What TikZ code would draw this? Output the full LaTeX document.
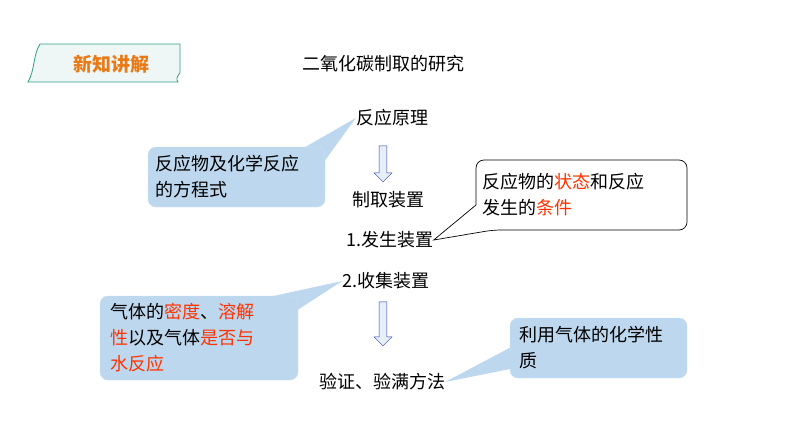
\documentclass[tikz,border=0pt]{standalone}
\usepackage{fontspec}
\setmainfont{Noto Sans CJK SC}
\usetikzlibrary{shapes.arrows}
\definecolor{cb}{HTML}{BDD7EE}
\definecolor{rd}{HTML}{FF3300}
\definecolor{gr}{HTML}{2E9E7E}
\definecolor{or}{HTML}{E97A16}
\begin{document}
\begin{tikzpicture}[x=1pt,y=-1pt,
  txt/.style={font=\fontsize{18}{26}\selectfont, inner sep=0pt},
  call/.style={rounded corners=8pt, fill=cb, draw=cb!80!white},
  callw/.style={rounded corners=8pt, fill=white, draw=black, line width=0.7pt},
  darr/.style={single arrow, shape border rotate=270, draw=cb!40!blue!70!black, fill=cb!40, minimum height=36pt, minimum width=18pt, single arrow head extend=3pt, inner sep=2pt}]
\useasboundingbox (0,0) rectangle (794,447);
% badge
\draw[gr, fill=gr!8, line width=0.8pt] (40,44) .. controls (33,55) and (35,70) .. (28,82) -- (178,82) .. controls (174,76) and (182,74) .. (180,70) -- (180,44) -- cycle;
\node[font=\fontsize{19}{22}\selectfont\bfseries, text=or] (badge) at (111,64) {新知讲解};
\node[txt] (title) at (383,64) {二氧化碳制取的研究};
\node[txt] (n1) at (392,118) {反应原理};
\node[darr, minimum height=36pt] (a1) at (383,162) {};
\node[txt] (n2) at (388,200) {制取装置};
\node[txt] (n3) at (390,240) {1.发生装置};
\node[txt] (n4) at (386,281) {2.收集装置};
\node[darr, minimum height=44pt] (a2) at (383,322) {};
\node[txt] (n5) at (382,382) {验证、验满方法};
% callout 1
\fill[cb] (300,150) -- (n1.west) -- (318,170) -- cycle;
\node[call, minimum width=177pt, minimum height=60pt] (c1) at (236.5,177) {};
\node[txt, align=left, anchor=west] (t1) at (155,177) {反应物及化学反应\\的方程式};
% callout 2
\draw[callw] (476,160) -- (687,160) -- (687,230) -- (493,230) [sharp corners] -- (n3.east) -- (476,205) [rounded corners=8pt] -- cycle;
\node[txt, align=left, anchor=west] (t2) at (482,195) {反应物的\textcolor{rd}{状态}和反应\\发生的\textcolor{rd}{条件}};
% callout 3
\fill[cb] (255,300) -- (n4.west) -- (285,318) -- cycle;
\node[call, minimum width=198pt, minimum height=84pt] (c3) at (199,338) {};
\node[txt, align=left, anchor=west] (t3) at (110,338) {气体的\textcolor{rd}{密度}、\textcolor{rd}{溶解}\\\textcolor{rd}{性}以及气体\textcolor{rd}{是否与}\\\textcolor{rd}{水反应}};
% callout 4
\fill[cb] (515,345) -- (n5.east) -- (515,368) -- cycle;
\node[call, minimum width=177pt, minimum height=60pt] (c4) at (598.5,348) {};
\node[txt, align=left, anchor=west] (t4) at (519,348) {利用气体的化学性\\质};
\end{tikzpicture}
\end{document}
